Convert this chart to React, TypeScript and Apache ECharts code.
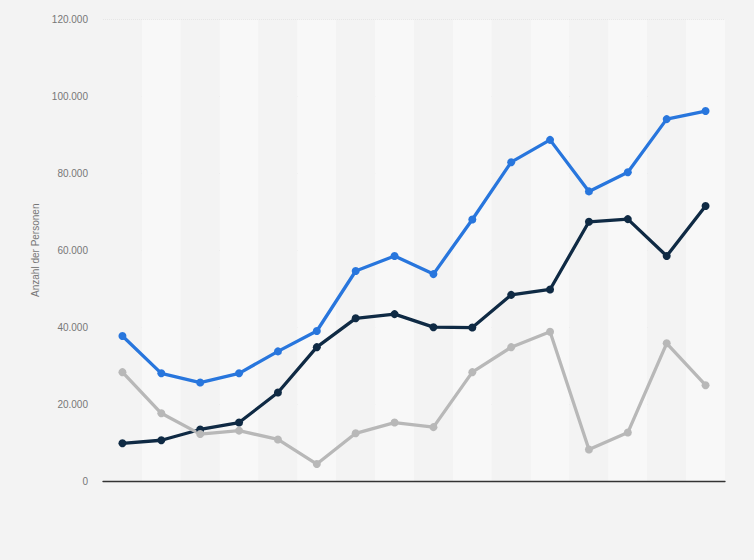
import React, { useEffect, useRef } from "react";
import * as echarts from "echarts";

const categories = [
  "1", "2", "3", "4", "5", "6", "7", "8",
  "9", "10", "11", "12", "13", "14", "15", "16",
];
const seriesBlue = [37700, 28000, 25600, 28000, 33700, 39000, 54600, 58500, 53800, 68000, 82900, 88700, 75300, 80300, 94100, 96200];
const seriesNavy = [9800, 10600, 13400, 15200, 23000, 34800, 42300, 43400, 40000, 39900, 48400, 49800, 67400, 68100, 58500, 71500];
const seriesGray = [28300, 17600, 12200, 13100, 10800, 4400, 12400, 15200, 14000, 28300, 34800, 38800, 8200, 12600, 35800, 24900];
const yTicks = { min: 0, max: 120000, interval: 20000 };
const yAxisName = "Anzahl der Personen";

const fmt = (v: number) => v.toLocaleString("de-DE");

export default function App() {
  const ref = useRef<HTMLDivElement>(null);
  useEffect(() => {
    document.body.style.margin = "0";
    const chart = echarts.init(ref.current!, null, { renderer: "svg" });
    const mk = (name: string, data: number[], color: string) => ({
      name,
      type: "line",
      data,
      symbol: "circle",
      symbolSize: 8,
      lineStyle: { width: 3.3, color },
      itemStyle: { color },
      z: 3,
    });
    chart.setOption({
      animation: false,
      backgroundColor: "#f3f3f3",
      textStyle: { fontFamily: "Liberation Sans, Arial, sans-serif" },
      grid: { left: 103, right: 29, top: 19.5, bottom: 79 },
      xAxis: {
        type: "category",
        data: categories,
        boundaryGap: true,
        axisLabel: { show: false },
        axisTick: { show: false },
        axisLine: { show: true, lineStyle: { color: "#333", width: 1.3 } },
        splitArea: { show: true, areaStyle: { color: ["#f3f3f3", "#f8f8f8"] } },
        splitLine: { show: false },
      },
      yAxis: {
        type: "value",
        min: yTicks.min,
        max: yTicks.max,
        interval: yTicks.interval,
        name: yAxisName,
        nameLocation: "middle",
        nameGap: 63,
        nameTextStyle: { color: "#777", fontSize: 10 },
        axisLabel: { color: "#777", fontSize: 10, margin: 15, formatter: (v: number) => fmt(v) },
        axisLine: { show: false },
        axisTick: { show: false },
        splitLine: { show: true, lineStyle: { color: "#d9d9d9", type: [1, 1], width: 1 } },
      },
      series: [
        mk("Blau", seriesBlue, "#2876dd"),
        mk("Dunkel", seriesNavy, "#0f2a44"),
        mk("Grau", seriesGray, "#b8b8b8"),
      ],
    });
    return () => chart.dispose();
  }, []);
  return <div ref={ref} style={{ width: 754, height: 560 }} />;
}
